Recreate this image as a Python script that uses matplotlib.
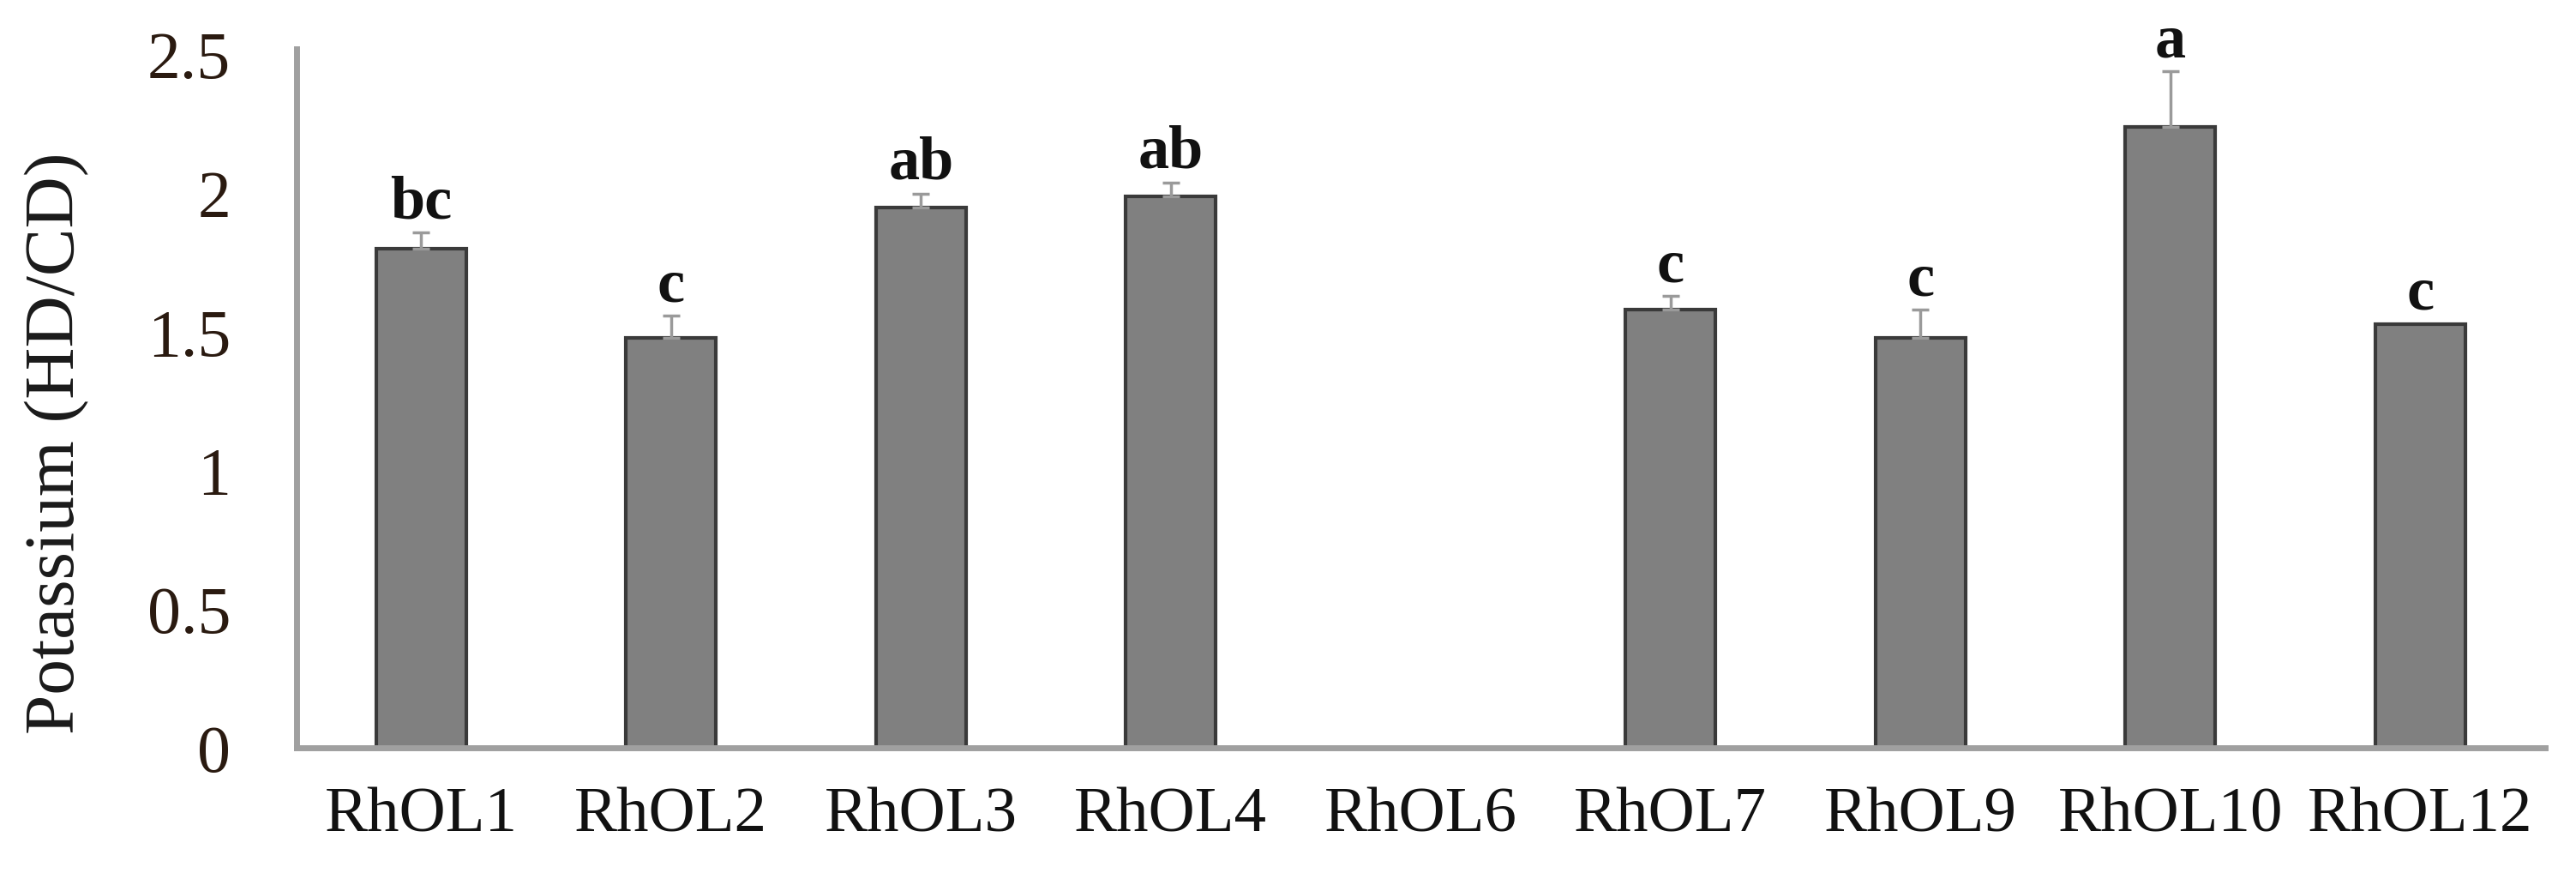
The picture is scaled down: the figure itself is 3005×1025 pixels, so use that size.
import numpy as np
import matplotlib.pyplot as plt

lines = ["RhOL1", "RhOL2", "RhOL3", "RhOL4", "RhOL6", "RhOL7", "RhOL9", "RhOL10", "RhOL12"]
potassium = [1.80, 1.48, 1.95, 1.99, 0.0, 1.58, 1.48, 2.24, 1.53]
errors = [0.06, 0.08, 0.05, 0.05, 0.0, 0.05, 0.10, 0.20, 0.0]
letters = ["bc", "c", "ab", "ab", "", "c", "c", "a", "c"]

plt.rcParams['font.family'] = ['Liberation Serif', 'DejaVu Serif']

fig = plt.figure(figsize=(30.05, 10.25), dpi=100)
ax = fig.add_axes([0.115, 0.149, 0.873, 0.795])

x = np.arange(len(lines))
ax.bar(x, potassium, width=0.36, color="#808080", edgecolor="#3a3a3a", linewidth=3, zorder=2)
for xi, v, e in zip(x, potassium, errors):
    if e > 0:
        ax.errorbar(xi, v, yerr=[[0], [e]], fmt="none", ecolor="#9a9a9a",
                    elinewidth=2.5, capsize=7, capthick=2.5, zorder=3)
for xi, v, e, t in zip(x, potassium, errors, letters):
    if t:
        ax.text(xi, v + e + 0.005, t, ha="center", va="bottom", fontsize=52,
                fontweight="bold", color="#111111")

ax.set_xlim(-0.5, len(lines) - 0.5)
ax.set_ylim(0, 2.52)
ax.set_yticks([0, 0.5, 1, 1.5, 2, 2.5])
ax.set_yticklabels(["0", "0.5", "1", "1.5", "2", "2.5"])
ax.set_xticks(x)
ax.set_xticklabels(lines)
ax.tick_params(axis="y", length=0, pad=55, labelsize=56, labelcolor="#2a1a10")
ax.tick_params(axis="x", length=0, pad=33, labelsize=54, labelcolor="#111111")

ax.set_ylabel("Potassium (HD/CD)", fontsize=60, color="#1a1a1a")
ax.yaxis.set_label_coords(-0.092, 0.436)

for s in ["top", "right"]:
    ax.spines[s].set_visible(False)
for s in ["left", "bottom"]:
    ax.spines[s].set_color("#a0a0a0")
    ax.spines[s].set_linewidth(5)

fig.savefig("out.png", dpi=100)
